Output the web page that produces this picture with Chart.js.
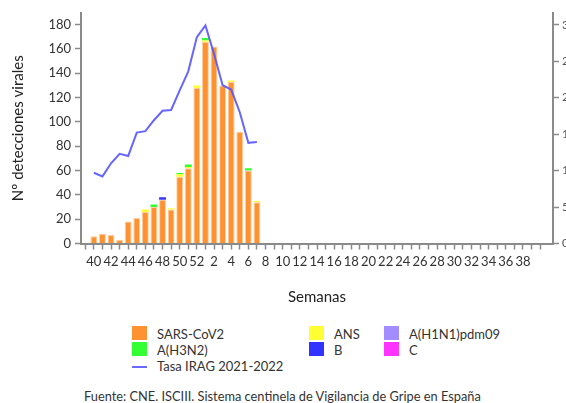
<!DOCTYPE html>
<html><head><meta charset="utf-8">
<script src="https://cdn.jsdelivr.net/npm/chart.js@4"></script>
<style>
html,body{margin:0;padding:0;background:#fff;width:566px;height:403px;overflow:hidden;font-family:Lato,'Open Sans',sans-serif;}
#wrap{position:relative;width:566px;height:403px;}
#c{position:absolute;left:0;top:0;}
.lg{position:absolute;font-size:13px;color:#333;line-height:14px;white-space:nowrap}
.bx{position:absolute;width:15px;height:14px;}
.ln{position:absolute;width:15px;height:2px;background:#6a6aff;}
#src{position:absolute;left:84px;top:388px;font-size:12.8px;color:#333;white-space:nowrap;}
</style></head><body>
<div id="wrap">
<canvas id="c" width="566" height="310"></canvas>
<div id="legend"></div>
<div id="src">Fuente: CNE. ISCIII. Sistema centinela de Vigilancia de Gripe en España</div>
</div>
<script>
// Weeks (categories): blank 39 before, 40..52, 1..41 (padding slots at end)
const weeks = ['39','40','41','42','43','44','45','46','47','48','49','50','51','52',
  '1','2','3','4','5','6','7','8','9','10','11','12','13','14','15','16','17','18','19','20',
  '21','22','23','24','25','26','27','28','29','30','31','32','33','34','35','36','37','38','39','40','41'];
// Series (weeks 40..7), leading null for the blank slot
const sarsCov2 = [null,6,8,7,3,18,21,26,30,36,28,55,62,128,166,162,130,133,92,60,34];
const ans      = [null,0,0,0,0,0,0,2,0,0,1,2,1,2,1,0,0,1,0,0,1];
const aH3N2    = [null,0,0,0,0,0,0,0,2,0,0,1,2,0,2,0,0,0,0,2,0];
const fluB     = [null,0,0,0,0,0,0,0,0,2,0,0,0,0,0,0,0,0,0,0,0];
const aH1N1    = [null,0,0,0,0,0,0,0,0,0,0,0,0,0,0,0,0,0,0,0,0];
const fluC     = [null,0,0,0,0,0,0,0,0,0,0,0,0,0,0,0,0,0,0,0,0];
const tasaIRAG = [null,9.7,9.2,11.0,12.3,12.0,15.2,15.4,16.9,18.2,18.3,21.0,23.6,28.3,29.9,26.0,21.7,21.1,18.0,13.8,13.9];
const leftTicks = [0,20,40,60,80,100,120,140,160,180];
const rightTicks = [0,5,10,15,20,25,30];

const labels = {sars:'SARS-CoV2', ans:'ANS', h3:'A(H3N2)', b:'B', h1:'A(H1N1)pdm09', c:'C', irag:'Tasa IRAG 2021-2022'};
const colors = {sars:'#ff9230', ans:'#ffff33', h3:'#33ff33', b:'#3333ff', h1:'#a38cff', c:'#ff33ff', irag:'rgba(85,85,255,0.9)'};

Chart.defaults.font.family = 'Lato';
const axisColor = '#8a8a8a';

function bar(key, data, border){
  return {type:'bar', label:labels[key], data, backgroundColor:colors[key],
    borderColor: border ? 'rgba(255,205,160,1)' : colors[key], borderWidth: border?1:0,
    barPercentage:0.8, categoryPercentage:1.0, yAxisID:'y', order:1};
}

new Chart(document.getElementById('c'), {
  type:'bar',
  data:{labels:weeks, datasets:[
    {type:'line', label:labels.irag, data:tasaIRAG, borderColor:colors.irag, borderWidth:2,
     pointRadius:0, tension:0, fill:false, yAxisID:'y1', order:0},
    bar('sars', sarsCov2, true),
    bar('ans', ans),
    bar('h3', aH3N2),
    bar('b', fluB),
    bar('h1', aH1N1),
    bar('c', fluC)
  ]},
  options:{
    responsive:false, animation:false,
    layout:{padding:{top:13,left:0,right:0,bottom:0}},
    plugins:{legend:{display:false}, tooltip:{enabled:false}},
    scales:{
      x:{stacked:true, offset:true,
        grid:{display:true, drawOnChartArea:false, offset:false, tickLength:6, tickWidth:1.5,
          tickColor: c => c.index === weeks.length-1 ? 'rgba(0,0,0,0)' : axisColor},
        border:{color:axisColor, width:2},
        ticks:{autoSkip:false, maxRotation:0, minRotation:0, padding:5, color:'#333', font:{size:13},
          callback:(v,i)=>{const w=+weeks[i]; return (i>=1 && i<=51 && w%2===0)? weeks[i] : '';}},
        title:{display:true, text:'Semanas', color:'#222', font:{size:15}, padding:{top:0,bottom:4}},
        afterFit:s=>{s.height=66.5;}
      },
      y:{stacked:true, position:'left', min:0, max:189.6,
        grid:{drawOnChartArea:false, tickLength:6, tickWidth:1.5, tickColor:axisColor},
        border:{color:axisColor, width:2},
        afterBuildTicks:s=>{s.ticks = leftTicks.map(v=>({value:v}));},
        ticks:{color:'#333', font:{size:13}, padding:4},
        title:{display:true, text:'Nº detecciones virales', color:'#222', font:{size:15}, padding:{top:9,bottom:0}},
        afterFit:s=>{s.width=81;}
      },
      y1:{position:'right', min:0, max:31.6,
        grid:{drawOnChartArea:false, tickLength:6, tickWidth:1.5, tickColor:axisColor},
        border:{color:axisColor, width:2},
        afterBuildTicks:s=>{s.ticks = rightTicks.map(v=>({value:v}));},
        ticks:{color:'#555', font:{size:12}, padding:3},
        afterFit:s=>{s.width=13;}
      }
    }
  }
});

// HTML legend
const legendLayout = [
  {key:'sars', x:132, y:326, kind:'box'},
  {key:'h3',   x:132, y:342, kind:'box'},
  {key:'irag', x:132, y:358, kind:'line'},
  {key:'ans',  x:309, y:326, kind:'box'},
  {key:'b',    x:309, y:342, kind:'box'},
  {key:'h1',   x:384, y:326, kind:'box'},
  {key:'c',    x:384, y:342, kind:'box'}
];
const lg = document.getElementById('legend');
legendLayout.forEach(it=>{
  const m = document.createElement('div');
  if(it.kind==='box'){ m.className='bx'; m.style.background=colors[it.key]; m.style.left=it.x+'px'; m.style.top=it.y+'px'; }
  else { m.className='ln'; m.style.left=it.x+'px'; m.style.top=(it.y+8)+'px'; }
  lg.appendChild(m);
  const t = document.createElement('div');
  t.className='lg'; t.textContent=labels[it.key];
  t.style.left=(it.x+25)+'px'; t.style.top=(it.y+1)+'px';
  lg.appendChild(t);
});
</script>
</body></html>
